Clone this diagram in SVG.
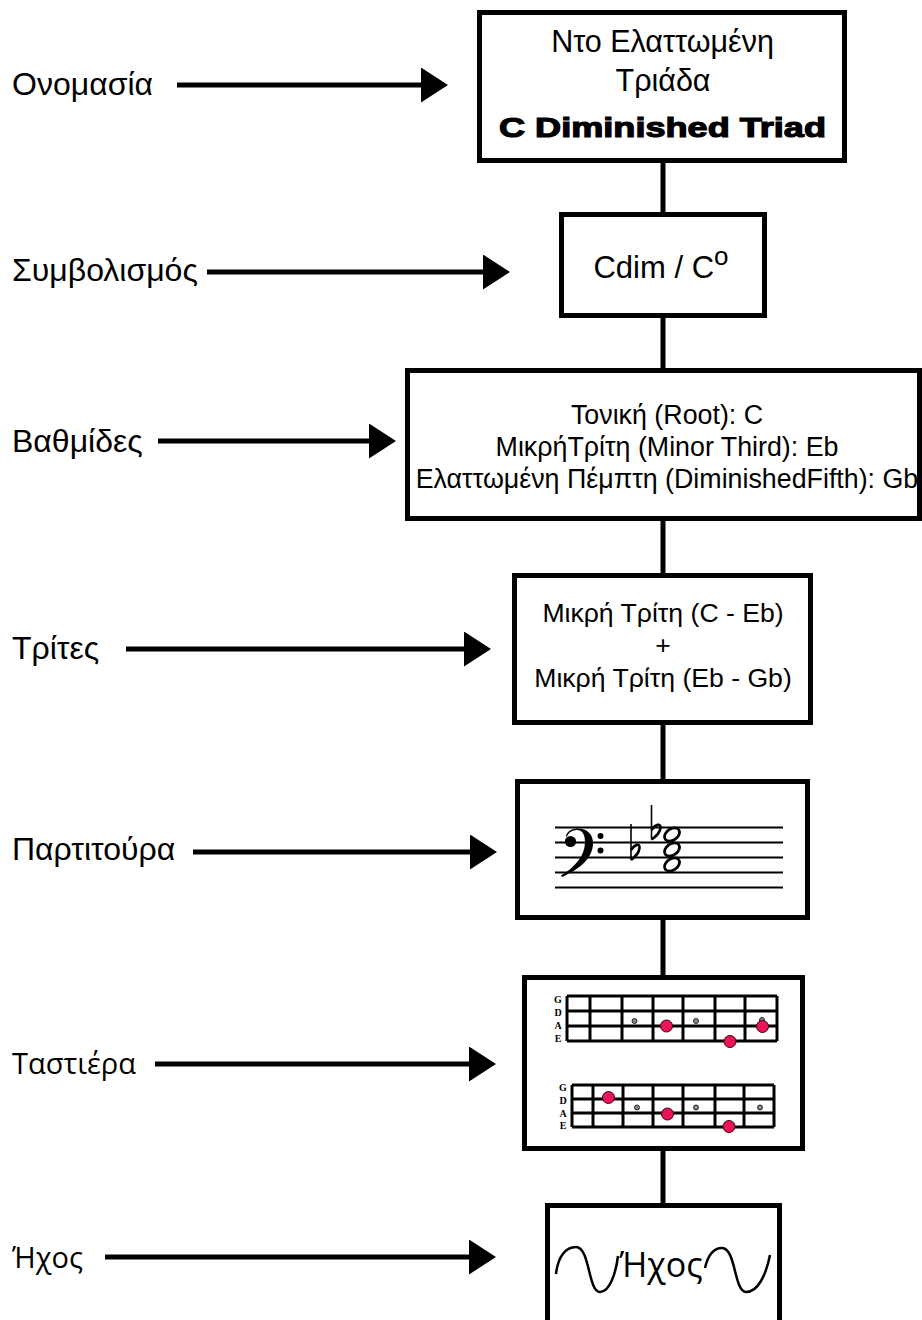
<svg xmlns="http://www.w3.org/2000/svg" width="922" height="1320" viewBox="0 0 922 1320">
<style>
.box{fill:#fff;stroke:#000;stroke-width:5}
.lbl{font-family:"Liberation Sans",Arial,sans-serif;font-size:32px;fill:#000}
.lblo{font-family:"Open Sans","Noto Sans",sans-serif;font-size:29px;fill:#000}
.t{font-family:"Liberation Sans",Arial,sans-serif;fill:#000;text-anchor:middle}
.conn{stroke:#000;stroke-width:5;fill:none}
.arr{stroke:#000;stroke-width:5;fill:none}
.staff{stroke:#000;stroke-width:2}
.grid{stroke:#000;stroke-width:3;fill:none}
.str{font-family:"Liberation Serif","Times New Roman",serif;font-weight:bold;font-size:10px;text-anchor:middle;fill:#000}
.pk{fill:#e8145c;stroke:#400;stroke-width:1}
.gr{fill:#888;stroke:#222;stroke-width:1}
.note{fill:#fff;stroke:#000;stroke-width:2.8}
</style>
<defs>
<marker id="ah" markerUnits="userSpaceOnUse" markerWidth="28" markerHeight="36" refX="0" refY="17.5" orient="auto">
<path d="M0,0 L27,17.5 L0,35 Z" fill="#000"/>
</marker>
</defs>

<g id="connectors">
<line class="conn" x1="663" y1="160" x2="663" y2="215"/>
<line class="conn" x1="663" y1="315" x2="663" y2="371"/>
<line class="conn" x1="663" y1="518" x2="663" y2="576"/>
<line class="conn" x1="663" y1="722" x2="663" y2="782"/>
<line class="conn" x1="663" y1="917" x2="663" y2="978"/>
<line class="conn" x1="663" y1="1148" x2="663" y2="1206"/>
<line class="arr" x1="177" y1="85" x2="421" y2="85" marker-end="url(#ah)"/>
<line class="arr" x1="207" y1="272" x2="483" y2="272" marker-end="url(#ah)"/>
<line class="arr" x1="158" y1="441" x2="369" y2="441" marker-end="url(#ah)"/>
<line class="arr" x1="126" y1="649" x2="464" y2="649" marker-end="url(#ah)"/>
<line class="arr" x1="193" y1="852" x2="470" y2="852" marker-end="url(#ah)"/>
<line class="arr" x1="155" y1="1064" x2="469" y2="1064" marker-end="url(#ah)"/>
<line class="arr" x1="105" y1="1257" x2="469" y2="1257" marker-end="url(#ah)"/>
</g>

<g id="labels">
<text class="lbl" x="12" y="95">Ονομασία</text>
<text class="lbl" x="12" y="281">Συμβολισμός</text>
<text class="lbl" x="12" y="452">Βαθμίδες</text>
<text class="lbl" x="12" y="659">Τρίτες</text>
<text class="lbl" x="12" y="860">Παρτιτούρα</text>
<text class="lblo" x="12" y="1074">Ταστιέρα</text>
<text class="lblo" x="12" y="1268">Ήχος</text>
</g>

<g id="name">
<rect class="box" x="479.5" y="12.5" width="365" height="148"/>
<text class="t" x="662.5" y="52" font-size="30.5">Ντο Ελαττωμένη</text>
<text class="t" x="663" y="91" font-size="30.5">Τριάδα</text>
<text class="t" x="662.5" y="137" font-size="28" font-weight="bold" stroke="#000" stroke-width="1.2" textLength="327" lengthAdjust="spacingAndGlyphs">C Diminished Triad</text>
</g>

<g id="symbol">
<rect class="box" x="561.5" y="214.5" width="203" height="101"/>
<text class="t" x="661" y="278" font-size="31">Cdim / C<tspan font-size="26" dy="-13">o</tspan></text>
</g>

<g id="degrees">
<rect class="box" x="407.5" y="370.5" width="512" height="148"/>
<text class="t" x="667" y="424" font-size="26.8">Τονική (Root): C</text>
<text class="t" x="667" y="456" font-size="26.8">ΜικρήΤρίτη (Minor Third): Eb</text>
<text class="t" x="667" y="488" font-size="26.8">Ελαττωμένη Πέμπτη (DiminishedFifth): Gb</text>
</g>

<g id="thirds">
<rect class="box" x="514.5" y="575.5" width="296" height="147"/>
<text class="t" x="663" y="622" font-size="26.6">Μικρή Τρίτη (C - Eb)</text>
<text class="t" x="663" y="654" font-size="26.6">+</text>
<text class="t" x="663" y="687" font-size="26.6">Μικρή Τρίτη (Eb - Gb)</text>
</g>

<g id="score">
<rect class="box" x="517.5" y="781.5" width="290" height="136"/>
<line class="staff" x1="555" y1="827.5" x2="783" y2="827.5"/>
<line class="staff" x1="555" y1="842.5" x2="783" y2="842.5"/>
<line class="staff" x1="555" y1="857.5" x2="783" y2="857.5"/>
<line class="staff" x1="555" y1="872.5" x2="783" y2="872.5"/>
<line class="staff" x1="555" y1="887.5" x2="783" y2="887.5"/>
<path d="M566,836 C567,831 572,828.5 578,828.5 C587,828.5 593,834 593,843 C593,858 580,869 562,877 L561,875.5 C575,867 585,856 585,842 C585,834 582,830 577,830 C572,830 568,833 567,837 Z" fill="#000"/>
<circle cx="570.5" cy="841.5" r="5.6" fill="#000"/>
<circle cx="600.5" cy="836" r="3" fill="#000"/>
<circle cx="600.5" cy="850.5" r="3" fill="#000"/>
<line x1="631" y1="824" x2="631" y2="860" stroke="#000" stroke-width="1.6"/>
<path d="M631,850 C635,844 640,843 639.5,848 C639,853 635,857 631,860" fill="none" stroke="#000" stroke-width="2.6"/>
<line x1="651.5" y1="805" x2="651.5" y2="839.5" stroke="#000" stroke-width="1.6"/>
<path d="M651.5,830 C655.5,824 661,823 660.5,828 C660,833 656,836.5 651.5,839.5" fill="none" stroke="#000" stroke-width="2.6"/>
<ellipse class="note" cx="672" cy="834.5" rx="8.3" ry="5.6" transform="rotate(-35 672 834.5)"/>
<ellipse class="note" cx="672" cy="849.5" rx="8.3" ry="5.6" transform="rotate(-35 672 849.5)"/>
<ellipse class="note" cx="672" cy="864.5" rx="8.3" ry="5.6" transform="rotate(-35 672 864.5)"/>
</g>

<g id="fretboard">
<rect class="box" x="524.5" y="977.5" width="278" height="171"/>
<g id="fb1">
<path class="grid" d="M567,996 H777 M567,1011 H777 M567,1026 H777 M567,1041 H777 M567,996 V1041 M590,996 V1041 M622,996 V1041 M653,996 V1041 M683,996 V1041 M715,996 V1041 M745,996 V1041 M777,996 V1041"/>
<text class="str" x="558" y="1003">G</text>
<text class="str" x="558" y="1016">D</text>
<text class="str" x="558" y="1029">A</text>
<text class="str" x="558" y="1042">E</text>
<circle class="gr" cx="634.5" cy="1021" r="2.5"/>
<circle class="gr" cx="696" cy="1021" r="2.5"/>
<circle class="gr" cx="762" cy="1020" r="2.5"/>
<circle class="pk" cx="666.5" cy="1026" r="6"/>
<circle class="pk" cx="730" cy="1041.5" r="6"/>
<circle class="pk" cx="762.5" cy="1026.5" r="6"/>
</g>
<g id="fb2">
<path class="grid" d="M572,1085 H774 M572,1099 H774 M572,1113 H774 M572,1127 H774 M572,1085 V1127 M593,1085 V1127 M623,1085 V1127 M653,1085 V1127 M683,1085 V1127 M715,1085 V1127 M744,1085 V1127 M774,1085 V1127"/>
<text class="str" x="563" y="1091">G</text>
<text class="str" x="563" y="1104">D</text>
<text class="str" x="563" y="1117">A</text>
<text class="str" x="563" y="1129">E</text>
<circle class="gr" cx="637" cy="1107.5" r="2.5"/>
<circle class="gr" cx="696" cy="1107.5" r="2.5"/>
<circle class="gr" cx="760" cy="1107.5" r="2.5"/>
<circle class="pk" cx="608.5" cy="1097.5" r="6"/>
<circle class="pk" cx="667.5" cy="1114" r="6"/>
<circle class="pk" cx="729" cy="1126.5" r="6"/>
</g>
</g>

<g id="sound">
<rect class="box" x="547.5" y="1205.5" width="232" height="130"/>
<path d="M556,1274 C558,1256 566,1247 576,1247 C590,1247 588,1292 600,1292 C610,1292 616,1272 618,1256" fill="none" stroke="#000" stroke-width="2.5"/>
<path d="M705,1268 C708,1255 714,1248 722,1248 C736,1248 734,1292 746,1292 C758,1292 766,1275 770,1255" fill="none" stroke="#000" stroke-width="2.5"/>
<text x="661" y="1277" font-family="'Open Sans','Noto Sans',sans-serif" font-size="34" text-anchor="middle" fill="#000">Ήχος</text>
</g>
</svg>
